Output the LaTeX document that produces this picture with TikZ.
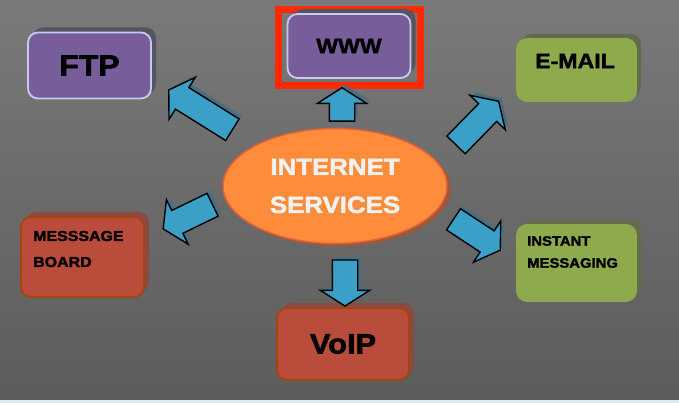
\documentclass[tikz,border=0pt]{standalone}
\usepackage{fontspec}
\setmainfont{Liberation Sans}[FakeStretch=1.1, BoldFeatures={FakeBold=2}]
\usetikzlibrary{shapes.geometric,shapes.arrows,shadows,positioning}

\definecolor{bgtop}{HTML}{797979}
\definecolor{bgbot}{HTML}{5C5C5C}
\definecolor{purplebox}{HTML}{775E9A}
\definecolor{purpleline}{HTML}{C8CAEE}
\definecolor{purpleshade}{HTML}{55555F}
\definecolor{redbox}{HTML}{BA4C3C}
\definecolor{redline}{HTML}{A2460E}
\definecolor{redshade}{HTML}{8A4A44}
\definecolor{greenbox}{HTML}{8FAA4C}
\definecolor{greenshade}{HTML}{636B4B}
\definecolor{ovalfill}{HTML}{FF8C3A}
\definecolor{ovalline}{HTML}{E0603A}
\definecolor{ovalshade}{HTML}{9A5A3A}
\definecolor{arrowblue}{HTML}{3AA0C8}
\definecolor{arrowshade}{HTML}{4A6E80}
\definecolor{framered}{HTML}{FF2A00}

\tikzset{
  servbox/.style={rectangle, rounded corners=10pt, line width=1.8pt, inner sep=0pt,
    font=\bfseries},
  purple/.style={servbox, fill=purplebox, draw=purpleline,
    drop shadow={shadow xshift=5pt, shadow yshift=5pt, fill=purpleshade, opacity=1}},
  redtile/.style={servbox, fill=redbox, draw=redline,
    drop shadow={shadow xshift=5pt, shadow yshift=5pt, fill=redshade, opacity=1}},
  greentile/.style={servbox, fill=greenbox, draw=greenbox,
    drop shadow={shadow xshift=5pt, shadow yshift=5pt, fill=greenshade, opacity=1}},
  servarrow/.style={single arrow, draw=black, fill=arrowblue, line width=1.4pt,
    inner sep=12pt, single arrow head extend=12pt,
    single arrow tip angle=115,
    drop shadow={shadow xshift=3pt, shadow yshift=3pt, fill=arrowshade, opacity=1}},
}

\begin{document}
\begin{tikzpicture}[x=1pt, y=-1pt]
\useasboundingbox (0,0) rectangle (679,403);
\fill[top color=bgtop, bottom color=bgbot] (0,0) rectangle (679,403);
\fill[gray!50!cyan!20!white] (0,400) rectangle (679,403);

% services round the centre
\node[purple, minimum width=123pt, minimum height=66pt, font=\bfseries\fontsize{29}{29}\selectfont] (ftp) at (89.5,65.5) {FTP};
\node[draw=framered, line width=7pt, minimum width=142pt, minimum height=76pt] (wwwframe) at (349,47.5) {};
\node[purple, minimum width=123pt, minimum height=64pt, font=\bfseries\fontsize{21}{21}\selectfont] (www) at (349,46) {WWW};
\node[greentile, minimum width=119pt, minimum height=62pt] (email) at (576.5,70) {};
\node[font=\bfseries\fontsize{21}{21}\selectfont] (emailtext) at (575,61) {E-MAIL};
\node[redtile, minimum width=123pt, minimum height=80pt] (board) at (82.5,257) {};
\node[anchor=west, align=left, inner sep=0pt, font=\bfseries\fontsize{14.5}{26}\selectfont] (boardtext) at (33,249) {MESSSAGE\\BOARD};
\node[redtile, minimum width=132pt, minimum height=72pt, font=\bfseries\fontsize{28}{28}\selectfont] (voip) at (343,344) {VoIP};
\node[greentile, minimum width=119pt, minimum height=76pt] (im) at (576.5,263) {};
\node[anchor=west, align=left, inner sep=0pt, font=\bfseries\fontsize{13.5}{22}\selectfont] (imtext) at (527,252) {INSTANT\\MESSAGING};

% centre
\node[ellipse, fill=ovalfill, draw=ovalline, line width=1.5pt, minimum width=224pt, minimum height=115pt,
  align=center, text=white!95!black, font=\bfseries\fontsize{23.5}{38}\selectfont,
  drop shadow={shadow xshift=4pt, shadow yshift=-3pt, fill=ovalshade, opacity=1}] (inet) at (335,186) {INTERNET\\SERVICES};

% block arrows
\node[servarrow, minimum height=75pt, rotate=148] (toftp) at (204,112) {};
\node[servarrow, minimum height=33pt, rotate=90] (towww) at (342,108.5) {};
\node[servarrow, minimum height=61pt, rotate=45.7] (toemail) at (474.5,126) {};
\node[servarrow, minimum height=55pt, rotate=206] (toboard) at (191.5,215) {};
\node[servarrow, minimum height=46pt, rotate=270] (tovoip) at (345,279) {};
\node[servarrow, minimum height=56pt, rotate=-33.4] (toim) at (473.5,232.5) {};
\end{tikzpicture}
\end{document}
